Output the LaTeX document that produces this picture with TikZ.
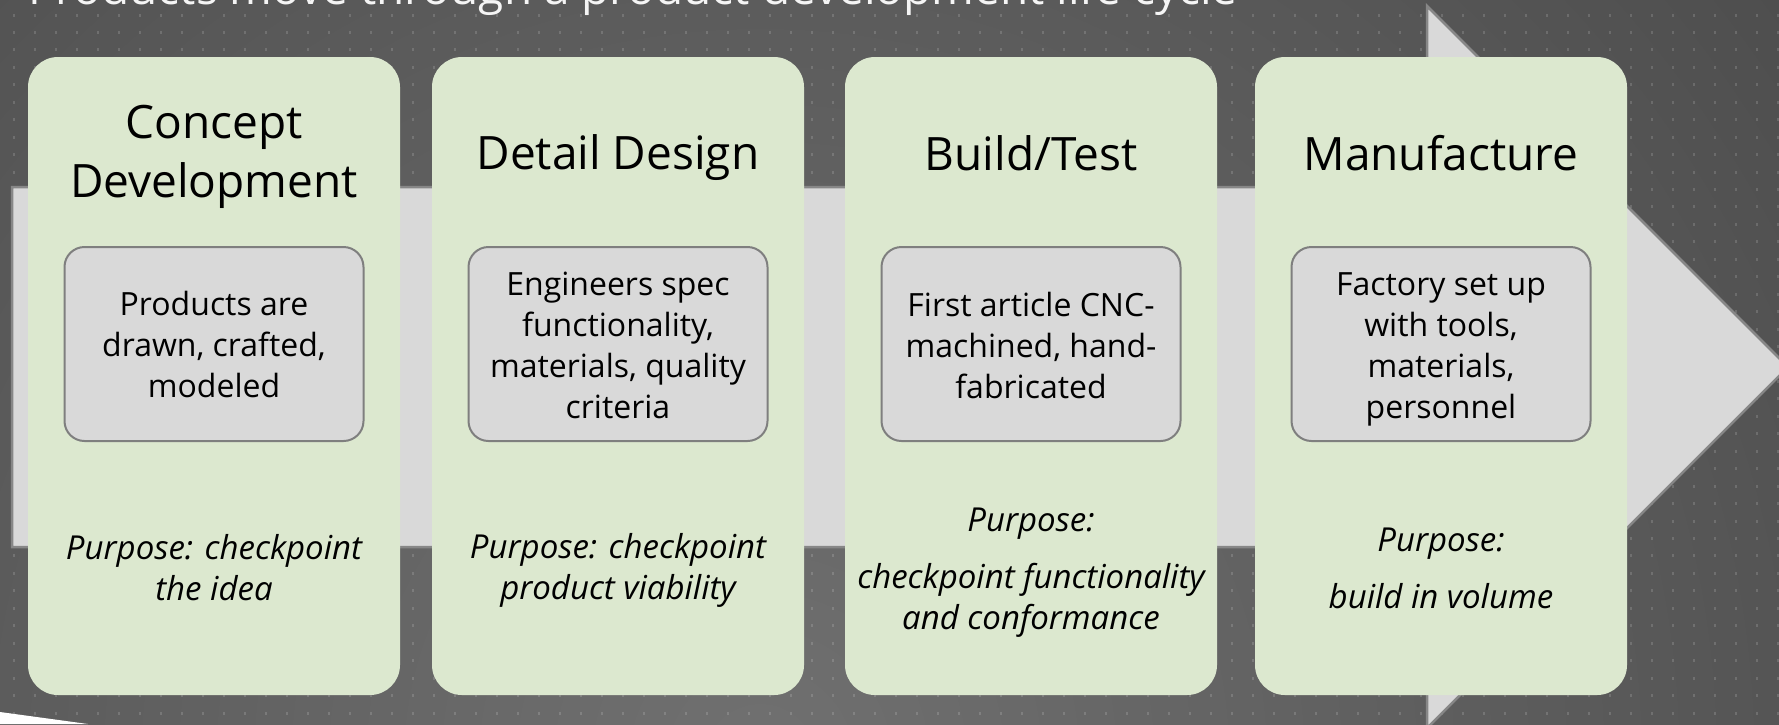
\documentclass[tikz,border=0pt]{standalone}
\usepackage{fontspec}
\setmainfont{Open Sans}
\definecolor{bgdark}{RGB}{72,72,72}
\definecolor{bglight}{RGB}{112,112,112}
\definecolor{arrowfill}{RGB}{217,217,217}
\definecolor{arrowline}{RGB}{135,135,135}
\definecolor{stagegreen}{RGB}{220,232,207}
\definecolor{innergray}{RGB}{217,217,217}
\definecolor{innerline}{RGB}{127,127,127}
\definecolor{titlec}{RGB}{245,245,245}
\tikzset{
  stage/.style={fill=stagegreen, rounded corners=30pt, minimum width=372pt, minimum height=638pt, inner sep=0pt},
  head/.style={font=\fontsize{46}{59}\selectfont, align=center, text=black},
  detail/.style={fill=innergray, draw=innerline, line width=2pt, rounded corners=20pt, minimum width=299pt, minimum height=194pt, inner sep=0pt},
  detailtext/.style={align=center, inner sep=0pt, font=\fontsize{32}{41}\selectfont},
  purpose/.style={font=\itshape\fontsize{33}{41}\selectfont, align=center, inner sep=0pt},
  titletext/.style={font=\fontsize{46}{55}\selectfont, text=titlec, inner sep=0pt},
  bigarrow/.style={fill=arrowfill, draw=arrowline, line width=2.5pt, line join=miter},
  dotc/.style={fill=white, fill opacity=0.15}
}
\begin{document}
\begin{tikzpicture}[x=1pt,y=-1pt]
\useasboundingbox (0,0) rectangle (1779,724);
\begin{scope}
  \clip (0,0) rectangle (1779,724);
  \fill[bgdark] (0,0) rectangle (1779,724);
  \shade[inner color=bglight, outer color=bgdark] (760,760) circle (1500);
  \foreach \i in {0,...,84}{
    \foreach \j in {0,...,41}{
      \fill[dotc] ({13+21*\i},{13.5+17.45*\j}) rectangle ++(2,3);
    }
  }
  \fill[white] (0,712) -- (88,724) -- (0,724) -- cycle;
  \draw[bigarrow] (12,187) -- (1427,187) -- (1427,6) -- (1788,367) -- (1427,728) -- (1427,547) -- (12,547) -- cycle;
\end{scope}
\node[titletext, anchor=base west] (title) at (28,4) {Products move through a product development life cycle};

\node[stage] (s1) at (214,376) {};
\node[stage] (s2) at (618,376) {};
\node[stage] (s3) at (1031,376) {};
\node[stage] (s4) at (1441,376) {};

\node[head] (h1) at (214,157) {Concept\\Development};
\node[head] (h2) at (618,158) {Detail Design};
\node[head] (h3) at (1031,153.5) {Build/Test};
\node[head] (h4) at (1441,153.5) {Manufacture};

\node[detail] (d1) at (214,344) {};
\node[detail] (d2) at (618,344) {};
\node[detail] (d3) at (1031,344) {};
\node[detail] (d4) at (1441,344) {};
\node[detailtext] (t1) at (214,344) {Products are\\drawn, crafted,\\modeled};
\node[detailtext] (t2) at (618,345) {Engineers spec\\functionality,\\materials, quality\\criteria};
\node[detailtext] (t3) at (1031,345) {First article CNC-\\machined, hand-\\fabricated};
\node[detailtext] (t4) at (1441,349) {Factory set up\\with tools,\\materials,\\personnel};

\node[purpose] (p1) at (214,568) {Purpose: checkpoint\\the idea};
\node[purpose] (p2) at (618,570.5) {Purpose: checkpoint\\product viability};
\node[purpose] (p3) at (1031,573) {Purpose:\\[16pt]checkpoint functionality\\and conformance};
\node[purpose] (p4) at (1441,568) {Purpose:\\[16pt]build in volume};
\end{tikzpicture}
\end{document}
